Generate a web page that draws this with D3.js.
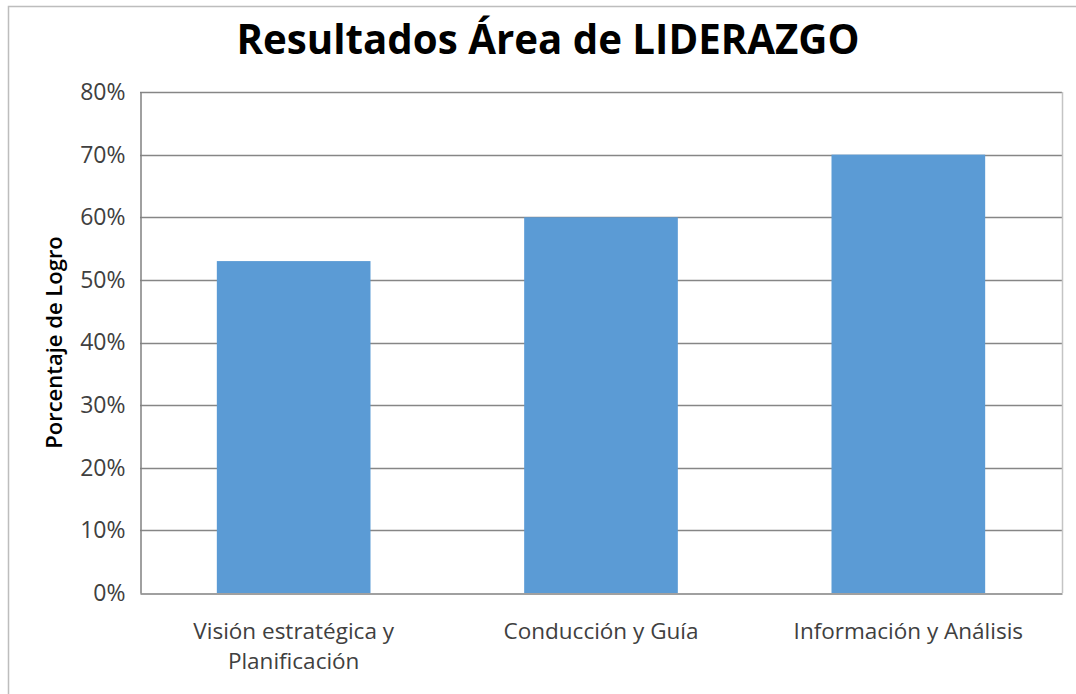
<!DOCTYPE html>
<html>
<head>
<meta charset="utf-8">
<script src="https://cdn.jsdelivr.net/npm/d3@7"></script>
<style>
    body { margin: 0; background: #fff; }
    svg { display: block; }
</style>
</head>
<body>
<div id="chart"></div>
<script>
const categories = [['Visión estratégica y', 'Planificación'], ['Conducción y Guía'], ['Información y Análisis']];
const values = [0.53, 0.60, 0.70];
const yTicks = [0, 0.1, 0.2, 0.3, 0.4, 0.5, 0.6, 0.7, 0.8];

document.addEventListener("DOMContentLoaded", () => {
    const width = 1076, height = 694;
    const margin = { top: 92, right: 14, bottom: 101, left: 140 };

    const svg = d3.select('#chart')
        .append('svg')
        .attr('width', width)
        .attr('height', height);

    // outer chart frame
    svg.append('path')
        .attr('d', `M8.5,${height} V6.5 H${width}`)
        .attr('fill', 'none')
        .attr('stroke', '#bdbdbd')
        .attr('stroke-width', 1.5);

    const xScale = d3.scaleBand()
        .domain(d3.range(categories.length))
        .range([margin.left, width - margin.right])
        .paddingInner(0.5)
        .paddingOuter(0.25);

    const yScale = d3.scaleLinear()
        .domain([0, 0.8])
        .range([height - margin.bottom, margin.top]);

    // gridlines
    svg.append('g')
        .selectAll('line')
        .data(yTicks.filter(d => d > 0))
        .enter()
        .append('line')
        .attr('x1', margin.left)
        .attr('x2', width - margin.right)
        .attr('y1', d => Math.round(yScale(d)) + 0.5)
        .attr('y2', d => Math.round(yScale(d)) + 0.5)
        .attr('stroke', '#868686')
        .attr('stroke-width', 1.5);

    // right plot border
    svg.append('line')
        .attr('x1', width - margin.right + 0.5)
        .attr('x2', width - margin.right + 0.5)
        .attr('y1', margin.top)
        .attr('y2', height - margin.bottom)
        .attr('stroke', '#c4c4c4')
        .attr('stroke-width', 1.5);

    // bars
    svg.append('g')
        .selectAll('rect')
        .data(values)
        .enter()
        .append('rect')
        .attr('x', (d, i) => xScale(i))
        .attr('width', xScale.bandwidth())
        .attr('y', d => yScale(d))
        .attr('height', d => yScale(0) - yScale(d))
        .attr('fill', '#5b9bd5');

    // y axis
    const yAxis = svg.append('g')
        .attr('transform', `translate(${margin.left + 0.5},0)`)
        .call(d3.axisLeft(yScale).tickValues(yTicks).tickFormat(d3.format('.0%')).tickSize(0).tickPadding(15));
    yAxis.select('.domain').attr('stroke', '#808080').attr('stroke-width', 1.5);
    yAxis.selectAll('text')
        .attr('fill', '#404040')
        .style('font-family', '"Open Sans", sans-serif')
        .style('font-size', '23px');

    // x axis
    const xAxis = svg.append('g')
        .attr('transform', `translate(0,${Math.round(yScale(0)) + 0.5})`)
        .call(d3.axisBottom(xScale).tickSize(0).tickFormat(''));
    xAxis.select('.domain').attr('stroke', '#808080').attr('stroke-width', 1.5);

    xAxis.selectAll('.tick')
        .each(function(i) {
            const t = d3.select(this).append('text')
                .attr('text-anchor', 'middle')
                .attr('fill', '#404040')
                .style('font-family', '"Open Sans", sans-serif')
                .style('font-size', '22.5px');
            categories[i].forEach((line, k) => {
                t.append('tspan')
                    .attr('x', 0)
                    .attr('y', 45 + k * 30)
                    .text(line);
            });
        });

    // y axis title
    svg.append('text')
        .attr('transform', 'rotate(-90)')
        .attr('x', -(margin.top + height - margin.bottom) / 2)
        .attr('y', 62)
        .attr('text-anchor', 'middle')
        .attr('fill', '#000')
        .style('font-family', '"Open Sans", sans-serif')
        .style('font-size', '22px')
        .style('font-weight', '600')
        .text('Porcentaje de Logro');

    // chart title
    svg.append('text')
        .attr('x', 548)
        .attr('y', 54)
        .attr('text-anchor', 'middle')
        .attr('fill', '#000')
        .attr('textLength', 623)
        .attr('lengthAdjust', 'spacingAndGlyphs')
        .style('font-family', '"Open Sans", sans-serif')
        .style('font-size', '42px')
        .style('font-weight', '700')
        .text('Resultados Área de LIDERAZGO');
});
</script>
</body>
</html>
